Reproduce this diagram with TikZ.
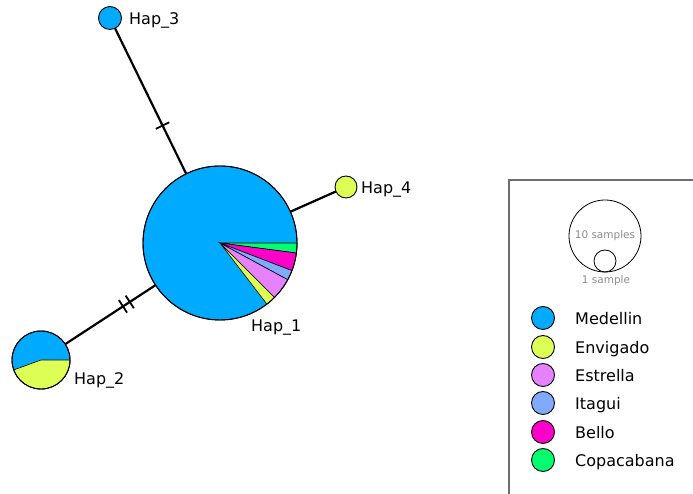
\documentclass[tikz,border=0pt]{standalone}
\usepackage{fontspec}
\setmainfont{DejaVu Sans}
\usetikzlibrary{calc}
\definecolor{med}{RGB}{0,170,255}
\definecolor{env}{RGB}{221,255,85}
\definecolor{est}{RGB}{230,130,255}
\definecolor{ita}{RGB}{128,170,255}
\definecolor{bel}{RGB}{255,0,200}
\definecolor{cop}{RGB}{0,255,110}
\definecolor{frame}{RGB}{110,110,110}
\definecolor{scaletxt}{RGB}{140,140,140}
\begin{document}
\begin{tikzpicture}[x=1pt,y=1pt,
 hap/.style={circle, draw=black, line width=0.9pt, inner sep=0pt, outer sep=0pt},
 edge/.style={line width=2.2pt, black},
 tickmark/.style={line width=1.8pt, black},
 lab/.style={anchor=west, font=\fontsize{16}{18}\selectfont, inner sep=0pt, text height=12pt, text depth=3.5pt},
 slice/.style={draw=black, line width=0.6pt},
 scalecirc/.style={circle, draw=black, line width=0.8pt, inner sep=0pt, outer sep=0pt},
 scalelab/.style={font=\fontsize{10.5}{12}\selectfont, text=scaletxt, inner sep=0pt}
]
\useasboundingbox (0,0) rectangle (693,494);

% haplotype nodes
\node[hap, fill=med, minimum size=154pt] (h1) at (220,251) {};
\node[hap, fill=med, minimum size=58pt] (h2) at (41,134) {};
\node[hap, fill=med, minimum size=23pt] (h3) at (110,476) {};
\node[hap, fill=env, minimum size=22pt] (h4) at (346,307) {};

% pie slices of Hap_1
\filldraw[slice, fill=cop] (h1.center) -- ++(0:77) arc[start angle=0, end angle=-7.5, radius=77] -- cycle;
\filldraw[slice, fill=bel] (h1.center) -- ++(-7.5:77) arc[start angle=-7.5, end angle=-21, radius=77] -- cycle;
\filldraw[slice, fill=ita] (h1.center) -- ++(-21:77) arc[start angle=-21, end angle=-28.5, radius=77] -- cycle;
\filldraw[slice, fill=est] (h1.center) -- ++(-28.5:77) arc[start angle=-28.5, end angle=-45, radius=77] -- cycle;
\filldraw[slice, fill=env] (h1.center) -- ++(-45:77) arc[start angle=-45, end angle=-52.5, radius=77] -- cycle;
\draw[line width=0.9pt] (h1.center) circle[radius=77];

% pie slice of Hap_2
\filldraw[slice, fill=env] (h2.center) -- ++(200:29) arc[start angle=200, end angle=360, radius=29] -- cycle;
\draw[line width=0.9pt] (h2.center) circle[radius=29];

% connectors
\draw[edge] (h3) -- (h1);
\draw[edge] (h2) -- (h1);
\draw[edge] (h4) -- (h1);

% mutation ticks
\coordinate (t3) at ($(h3.center)!0.478!(h1.center)$);
\draw[tickmark] ($(t3)!7.5pt!90:(h1.center)$) -- ($(t3)!7.5pt!-90:(h1.center)$);
\coordinate (t2a) at ($(h2.center)!0.458!(h1.center)$);
\coordinate (t2b) at ($(h2.center)!0.496!(h1.center)$);
\draw[tickmark] ($(t2a)!7.5pt!90:(h1.center)$) -- ($(t2a)!7.5pt!-90:(h1.center)$);
\draw[tickmark] ($(t2b)!7.5pt!90:(h1.center)$) -- ($(t2b)!7.5pt!-90:(h1.center)$);

% labels
\node[lab] (l1) at (251,167) {Hap\_1};
\node[lab] (l2) at (74,114) {Hap\_2};
\node[lab] (l3) at (129,474) {Hap\_3};
\node[lab] (l4) at (361,305) {Hap\_4};

% legend frame
\draw[frame, line width=1.2pt] (694,314) -- (509,314) -- (509,-1);

% scale circles
\node[scalecirc, minimum size=72pt] (big) at (605,258) {};
\node[scalecirc, minimum size=22pt] (small) at (605,233) {};
\node[scalelab] (s10) at (605,258) {10 samples};
\node[scalelab] (s1) at (606,213) {1 sample};

% legend entries
\node[hap, fill=med, minimum size=23pt] (k1) at (543,176) {};
\node[hap, fill=env, minimum size=23pt] (k2) at (543,147) {};
\node[hap, fill=est, minimum size=23pt] (k3) at (543,119) {};
\node[hap, fill=ita, minimum size=23pt] (k4) at (543,91) {};
\node[hap, fill=bel, minimum size=23pt] (k5) at (543,62) {};
\node[hap, fill=cop, minimum size=23pt] (k6) at (543,34) {};
\node[lab] (m1) at (575,174) {Medellin};
\node[lab] (m2) at (575,145) {Envigado};
\node[lab] (m3) at (575,117) {Estrella};
\node[lab] (m4) at (575,89) {Itagui};
\node[lab] (m5) at (575,60) {Bello};
\node[lab] (m6) at (575,32) {Copacabana};
\end{tikzpicture}
\end{document}
